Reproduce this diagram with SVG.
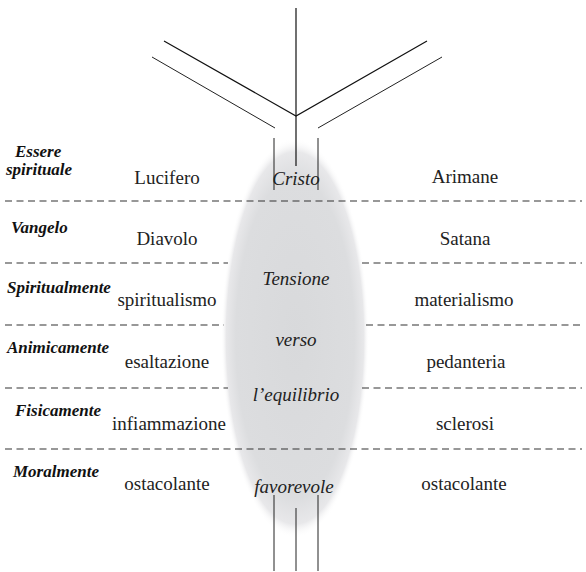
<svg xmlns="http://www.w3.org/2000/svg" width="586" height="572" viewBox="0 0 586 572">
<style>
.lbl{font-family:"Liberation Serif","Times New Roman",serif;font-size:17px;font-weight:bold;font-style:italic;fill:#111}
.txt{font-family:"Liberation Serif","Times New Roman",serif;font-size:19px;fill:#222;text-anchor:middle}
.mid{font-family:"Liberation Serif","Times New Roman",serif;font-size:19px;font-style:italic;fill:#222;text-anchor:middle}
.dash{stroke:#333;stroke-width:1.1;stroke-dasharray:7 4.5;fill:none}
.ln{stroke:#111;stroke-width:1.2;fill:none}
.ln2{stroke:#222;stroke-width:1;fill:none}
</style>
<defs>
<radialGradient id="g" cx="0.5" cy="0.5" r="0.5">
<stop offset="0" stop-color="#d8d9db"/>
<stop offset="0.8" stop-color="#dcdddf"/>
<stop offset="0.93" stop-color="#e8e8ea"/>
<stop offset="1" stop-color="#ffffff" stop-opacity="0"/>
</radialGradient>
</defs>
<rect width="586" height="572" fill="#fff"/>
<g id="tension">
<ellipse cx="295" cy="338" rx="74" ry="200" fill="url(#g)"/>
</g>
<g id="connectors">
<line class="dash" x1="5" y1="201" x2="582" y2="201"/>
<line class="dash" x1="5" y1="263" x2="228" y2="263"/>
<line class="dash" x1="362" y1="263" x2="582" y2="263"/>
<line class="dash" x1="5" y1="325" x2="224" y2="325"/>
<line class="dash" x1="366" y1="325" x2="582" y2="325"/>
<line class="dash" x1="5" y1="388" x2="228" y2="388"/>
<line class="dash" x1="362" y1="388" x2="582" y2="388"/>
<line class="dash" x1="5" y1="449" x2="582" y2="449"/>
<path class="ln" d="M164 41 L296 116 L427 41"/>
<path class="ln2" d="M152 57 L275 128"/>
<path class="ln2" d="M318 128 L442 57"/>
<line class="ln" x1="296" y1="8" x2="296" y2="166"/>
<line class="ln2" x1="274" y1="138" x2="274" y2="190"/>
<line class="ln2" x1="318" y1="138" x2="318" y2="190"/>
<line class="ln2" x1="274" y1="495" x2="274" y2="571"/>
<line class="ln2" x1="296" y1="508" x2="296" y2="571"/>
<line class="ln2" x1="318" y1="495" x2="318" y2="571"/>
</g>
<g id="row-essere">
<text class="lbl" x="15" y="157">Essere</text>
<text class="lbl" x="6" y="175">spirituale</text>
<text class="txt" x="167" y="184">Lucifero</text>
<text class="mid" x="296" y="185">Cristo</text>
<text class="txt" x="465" y="183">Arimane</text>
</g>
<g id="row-vangelo">
<text class="lbl" x="11" y="233">Vangelo</text>
<text class="txt" x="167" y="245">Diavolo</text>
<text class="txt" x="465" y="245">Satana</text>
</g>
<g id="row-spiritualmente">
<text class="lbl" x="7" y="293">Spiritualmente</text>
<text class="txt" x="167" y="306">spiritualismo</text>
<text class="mid" x="296" y="285">Tensione</text>
<text class="txt" x="464" y="306">materialismo</text>
</g>
<g id="row-animicamente">
<text class="lbl" x="7" y="353">Animicamente</text>
<text class="txt" x="167" y="368">esaltazione</text>
<text class="mid" x="296" y="346">verso</text>
<text class="txt" x="466" y="368">pedanteria</text>
</g>
<g id="row-fisicamente">
<text class="lbl" x="15" y="416">Fisicamente</text>
<text class="txt" x="169" y="430">infiammazione</text>
<text class="mid" x="296" y="401">l’equilibrio</text>
<text class="txt" x="465" y="430">sclerosi</text>
</g>
<g id="row-moralmente">
<text class="lbl" x="13" y="477">Moralmente</text>
<text class="txt" x="167" y="490">ostacolante</text>
<text class="mid" x="294" y="493">favorevole</text>
<text class="txt" x="464" y="490">ostacolante</text>
</g>
</svg>
